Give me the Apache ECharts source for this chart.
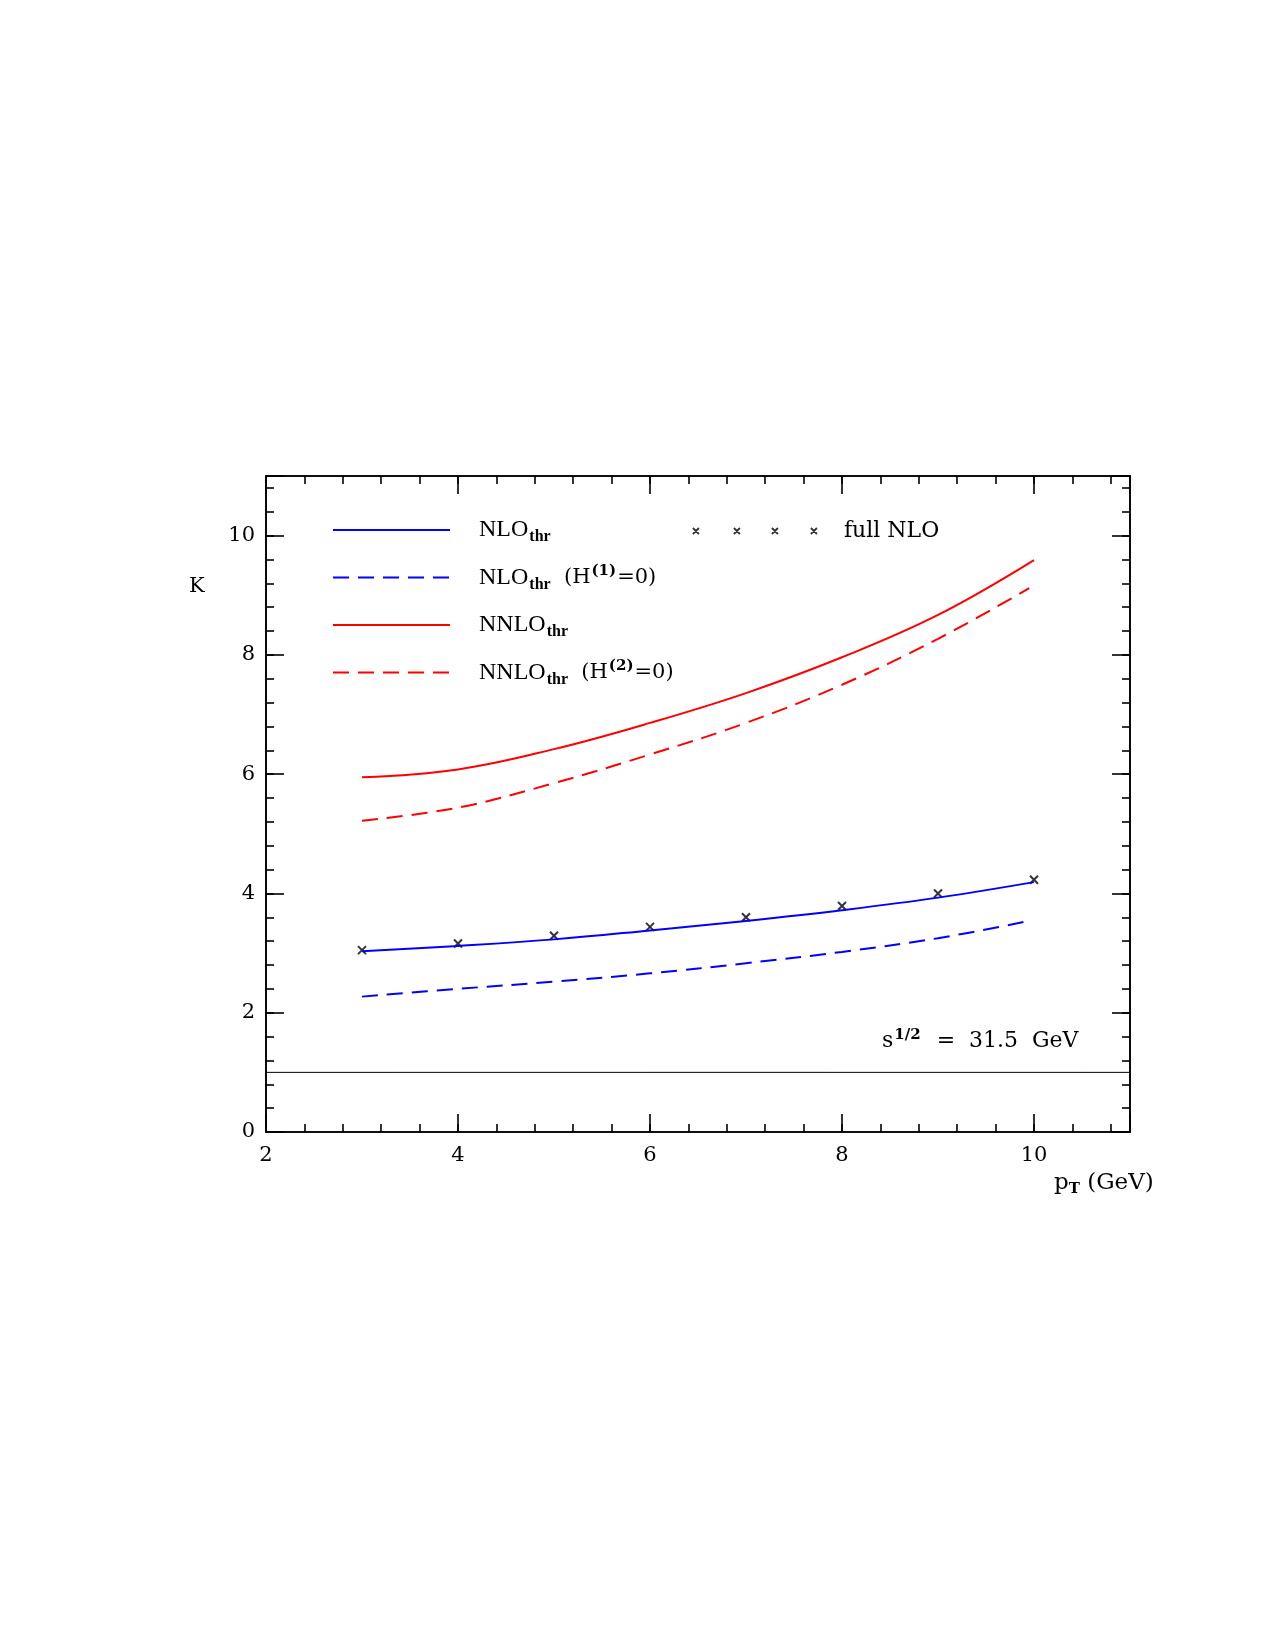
<!DOCTYPE html>
<html>
<head>
<meta charset="utf-8">
<script src="https://cdn.jsdelivr.net/npm/echarts@6/dist/echarts.min.js"></script>
<style>
html,body{margin:0;padding:0;background:#fff;}
#chart{width:1275px;height:1650px;}
</style>
</head>
<body>
<div id="chart"></div>
<script>
// ---- data ----
const pT = [3, 4, 5, 6, 7, 8, 9, 10];
const pTdashed = [3, 4, 5, 6, 7, 8, 9, 9.95];
const nloThr = [3.03, 3.12, 3.23, 3.38, 3.54, 3.72, 3.93, 4.19];
const nloThrH0 = [2.27, 2.40, 2.52, 2.66, 2.83, 3.02, 3.25, 3.54];
const nnloThr = [5.95, 6.08, 6.42, 6.86, 7.36, 7.96, 8.67, 9.59];
const nnloThrH0 = [5.22, 5.44, 5.85, 6.33, 6.86, 7.50, 8.27, 9.12];
const fullNLO = [3.05, 3.16, 3.29, 3.44, 3.60, 3.79, 4.00, 4.23];
const refLineX = [2, 11];
const refLineY = [1, 1];
const xMajorTicks = [2, 4, 6, 8, 10];
const yMajorTicks = [0, 2, 4, 6, 8, 10];

const seriesNames = ['NLOthr', 'NLOthrH1', 'NNLOthr', 'NNLOthrH2'];
const legendLabels = {
  'NLOthr': '{m0|NLO}{s|thr}',
  'NLOthrH1': '{m0|NLO}{s|thr}{m|  (H}{sup|(1)}{m|=0)}',
  'NNLOthr': '{m0|NNLO}{s|thr}',
  'NNLOthrH2': '{m0|NNLO}{s|thr}{m|  (H}{sup|(2)}{m|=0)}'
};

function pairs(xs, ys) { return xs.map((x, i) => [x, ys[i]]); }

const FONT = 'DejaVu Serif';
const LFONT = 'Liberation Serif';
const BLUE = '#0000ff', RED = '#ff0000';

const chart = echarts.init(document.getElementById('chart'), null, {renderer: 'canvas'});

const grid = {left: 266, top: 476, width: 864, height: 656};

function xAx(pos, interval, tickLen, showLabel) {
  return {
    type: 'value', gridIndex: 0, position: pos, min: 2, max: 11, interval: interval,
    axisLine: {show: true, onZero: false, lineStyle: {color: '#000', width: 1.6}},
    axisTick: {show: true, inside: true, length: tickLen, lineStyle: {color: '#000', width: 1.6}},
    axisLabel: {show: showLabel, margin: 13, color: '#000', fontFamily: FONT, fontSize: 21,
      formatter: v => (xMajorTicks.indexOf(v) >= 0 ? String(v) : '')},
    splitLine: {show: false}
  };
}
function yAx(pos, interval, tickLen, showLabel) {
  return {
    type: 'value', gridIndex: 0, position: pos, min: 0, max: 11, interval: interval,
    axisLine: {show: true, onZero: false, lineStyle: {color: '#000', width: 1.6}},
    axisTick: {show: true, inside: true, length: tickLen, lineStyle: {color: '#000', width: 1.6}},
    axisLabel: {show: showLabel, margin: 11, color: '#000', fontFamily: FONT, fontSize: 21,
      formatter: v => (yMajorTicks.indexOf(v) >= 0 ? String(v) : '')},
    splitLine: {show: false}
  };
}

const richLegend = {
  m0: {fontFamily: LFONT, fontSize: 24, color: '#000', padding: [0, 0, 0, 24]},
  m: {fontFamily: FONT, fontSize: 21, color: '#000'},
  s: {fontFamily: LFONT, fontSize: 16, fontWeight: 'bold', color: '#000', padding: [14, 0, 0, 1]},
  sup: {fontFamily: FONT, fontSize: 15, fontWeight: 'bold', color: '#000', padding: [0, 1, 13, 1]}
};

const option = {
  animation: false,
  backgroundColor: '#fff',
  grid: grid,
  xAxis: [xAx('bottom', 2, 18, true), xAx('top', 2, 18, false), xAx('bottom', 0.4, 8, false), xAx('top', 0.4, 8, false)],
  yAxis: [yAx('left', 2, 18, true), yAx('right', 2, 18, false), yAx('left', 0.4, 8, false), yAx('right', 0.4, 8, false)],
  legend: [
    {
      data: seriesNames, orient: 'vertical', left: 332, top: 510, padding: 0,
      itemWidth: 117, itemHeight: 14, itemGap: 7.5, selectedMode: false,
      itemStyle: {opacity: 0},
      formatter: name => legendLabels[name],
      textStyle: {lineHeight: 40, rich: richLegend}
    },
    {
      data: ['full NLO'], orient: 'horizontal', left: 692, top: 511, padding: 0,
      itemWidth: 124, itemHeight: 6, selectedMode: false,
      icon: 'path://M0,0L6,6M6,0L0,6M41,0L47,6M47,0L41,6M79,0L85,6M85,0L79,6M118,0L124,6M124,0L118,6',
      itemStyle: {color: 'transparent', borderColor: '#000', borderWidth: 1.8},
      formatter: '{m0|full NLO}',
      textStyle: {lineHeight: 40, rich: {m0: {fontFamily: FONT, fontSize: 22, color: '#000', padding: [0, 0, 0, 22]}}}
    }
  ],
  graphic: [
    {type: 'text', left: 189, top: 576, style: {text: 'K', font: '21px "DejaVu Serif"', fill: '#000'}},
    {type: 'text', left: 1054, top: 1172, style: {
      text: '{p|p}{t|T}{p| (GeV)}',
      rich: {p: {fontFamily: FONT, fontSize: 23, fill: '#000', lineHeight: 30},
             t: {fontFamily: FONT, fontSize: 15, fontWeight: 'bold', fill: '#000', padding: [12, 0, 0, 0]}}
    }},
    {type: 'text', left: 882, top: 1028, style: {
      text: '{p|s}{t|1/2}{p|  =  31.5  GeV}',
      rich: {p: {fontFamily: FONT, fontSize: 22, fill: '#000', lineHeight: 30},
             t: {fontFamily: FONT, fontSize: 15, fontWeight: 'bold', fill: '#000', padding: [0, 2, 12, 1]}}
    }}
  ],
  series: [
    {
      name: 'one', type: 'line', xAxisIndex: 0, yAxisIndex: 0, data: pairs(refLineX, refLineY),
      showSymbol: false, symbol: 'none', lineStyle: {color: '#000', width: 1}, silent: true
    },
    {
      name: 'NLOthr', type: 'line', xAxisIndex: 0, yAxisIndex: 0, data: pairs(pT, nloThr),
      smooth: 0.4, showSymbol: false, symbol: 'none',
      lineStyle: {color: BLUE, width: 2}, itemStyle: {color: BLUE}
    },
    {
      name: 'NLOthrH1', type: 'line', xAxisIndex: 0, yAxisIndex: 0, data: pairs(pTdashed, nloThrH0),
      smooth: 0.4, showSymbol: false, symbol: 'none',
      lineStyle: {color: BLUE, width: 2, type: [16, 9]}, itemStyle: {color: BLUE}
    },
    {
      name: 'NNLOthr', type: 'line', xAxisIndex: 0, yAxisIndex: 0, data: pairs(pT, nnloThr),
      smooth: 0.4, showSymbol: false, symbol: 'none',
      lineStyle: {color: RED, width: 2}, itemStyle: {color: RED}
    },
    {
      name: 'NNLOthrH2', type: 'line', xAxisIndex: 0, yAxisIndex: 0, data: pairs(pTdashed, nnloThrH0),
      smooth: 0.4, showSymbol: false, symbol: 'none',
      lineStyle: {color: RED, width: 2, type: [16, 9]}, itemStyle: {color: RED}
    },
    {
      name: 'full NLO', type: 'scatter', xAxisIndex: 0, yAxisIndex: 0, data: pairs(pT, fullNLO),
      symbol: 'path://M0,0L8,8M8,0L0,8', symbolSize: 8,
      itemStyle: {color: 'transparent', borderColor: '#000', borderWidth: 2}
    }
  ]
};
chart.setOption(option);
</script>
</body>
</html>
